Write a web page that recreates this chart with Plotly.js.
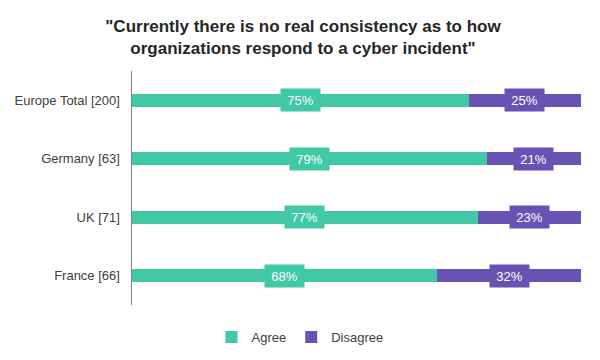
<!DOCTYPE html>
<html><head><meta charset="utf-8">
<script src="https://cdn.plot.ly/plotly-3.0.1.min.js"></script>
<style>html,body{margin:0;padding:0;background:#fff}#chart{width:600px;height:360px}</style>
</head><body><div id="chart"></div>
<script>
const categories = ["Europe Total [200]", "Germany [63]", "UK [71]", "France [66]"];
const agree = [75, 79, 77, 68];
const disagree = [25, 21, 23, 32];
const seriesNames = ["Agree", "Disagree"];
const colors = ["#41C8A5", "#6853B4"];

const traces = [
  {type:'bar', orientation:'h', name:seriesNames[0], y:categories, x:agree,
   marker:{color:colors[0]}, width:0.22, hoverinfo:'skip'},
  {type:'bar', orientation:'h', name:seriesNames[1], y:categories, x:disagree,
   marker:{color:colors[1]}, width:0.22, hoverinfo:'skip'}
];

const annotations = [];
categories.forEach((c,i)=>{
  annotations.push({x:agree[i]/2, y:c, xref:'x', yref:'y', text:agree[i]+'%', showarrow:false,
    bgcolor:colors[0], width:37, height:20, font:{family:'Liberation Sans, Arial', size:13, color:'#fff'}});
  annotations.push({x:agree[i]+disagree[i]/2, y:c, xref:'x', yref:'y', text:disagree[i]+'%', showarrow:false,
    bgcolor:colors[1], width:37, height:20, font:{family:'Liberation Sans, Arial', size:13, color:'#fff'}});
});

const layout = {
  width:600, height:360,
  margin:{l:132, r:19, t:71, b:55},
  barmode:'stack',
  paper_bgcolor:'#fff', plot_bgcolor:'#fff',
  font:{family:'Liberation Sans, Arial', color:'#404040'},
  title:{text:'"Currently there is no real consistency as to how<br>organizations respond to a cyber incident"',
    font:{family:'Liberation Sans, Arial', size:17, color:'#262626', weight:'bold'},
    x:0.505, xref:'container', y:0.912, yref:'container', yanchor:'middle'},
  xaxis:{range:[0,100], visible:false, fixedrange:true},
  yaxis:{autorange:'reversed', showline:true, linecolor:'#7f7f7f', linewidth:1.5, showgrid:false, zeroline:false,
    ticks:'', ticklabelstandoff:8, tickfont:{size:13, color:'#404040'}},
  showlegend:true,
  legend:{orientation:'h', x:0.5, xref:'container', xanchor:'center', y:0.064, yref:'container', yanchor:'middle',
    font:{size:13, color:'#404040'}, traceorder:'normal', itemwidth:30},
  annotations:annotations
};
Plotly.newPlot('chart', traces, layout, {displayModeBar:false, staticPlot:true});
</script></body></html>
